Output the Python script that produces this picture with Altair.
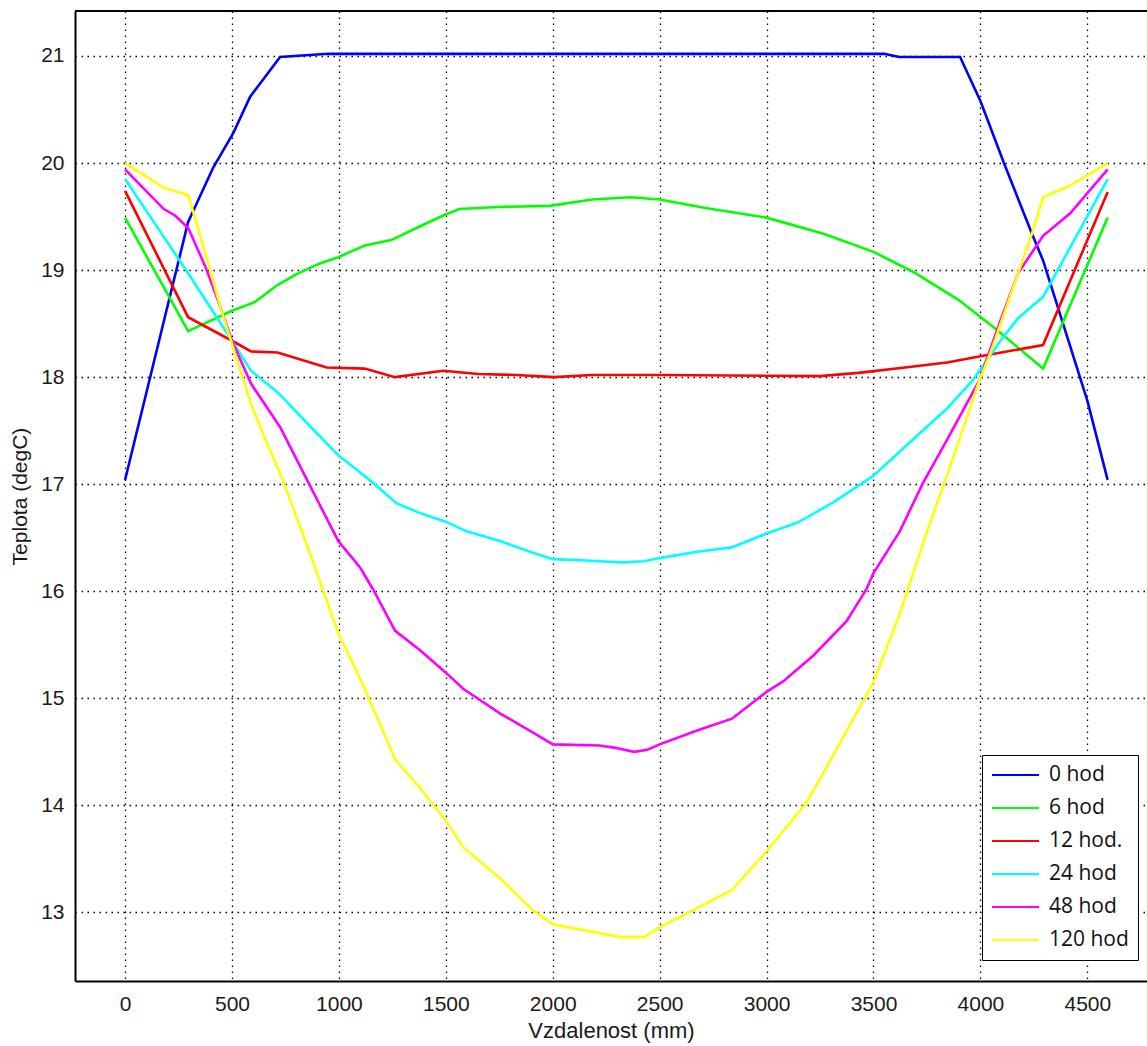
import altair as alt
import pandas as pd

# ---------------- data ----------------
labels = ["0 hod", "6 hod", "12 hod.", "24 hod", "48 hod", "120 hod"]
colors = ["#0000ff", "#00ff00", "#ff0000", "#00ffff", "#ff00ff", "#ffff00"]

x_0 = [0, 295, 413, 506, 585, 725, 950, 3550, 3620, 3905, 4000, 4110, 4241, 4293, 4500, 4595]
t_0 = [17.04, 19.45, 19.96, 20.28, 20.62, 20.99, 21.02, 21.02, 20.99, 20.99, 20.58, 20.00, 19.34, 19.09, 17.78, 17.04]

x_6 = [0, 295, 500, 606, 713, 800, 908, 996, 1121, 1245, 1370, 1488, 1564, 1741, 1986, 2184, 2362,
       2500, 2714, 3000, 3266, 3500, 3688, 3899, 4078, 4293, 4595]
t_6 = [19.49, 18.43, 18.62, 18.70, 18.86, 18.96, 19.06, 19.12, 19.23, 19.28, 19.40, 19.51, 19.57, 19.59,
       19.60, 19.66, 19.68, 19.66, 19.58, 19.49, 19.34, 19.17, 18.98, 18.72, 18.44, 18.08, 19.49]

x_12 = [0, 295, 500, 589, 713, 943, 1121, 1262, 1488, 1652, 1830, 2007, 2184, 2500, 3250, 3429, 3688,
        3851, 4013, 4293, 4595]
t_12 = [19.74, 18.56, 18.34, 18.24, 18.23, 18.09, 18.08, 18.00, 18.06, 18.03, 18.02, 18.00, 18.02, 18.02,
        18.01, 18.04, 18.10, 18.14, 18.20, 18.30, 19.73]

x_24 = [0, 295, 500, 589, 713, 837, 997, 1100, 1162, 1271, 1380, 1500, 1597, 1753, 1893, 2000, 2132,
        2318, 2427, 2500, 2675, 2838, 3000, 3143, 3312, 3500, 3686, 3840, 3964, 4094, 4176, 4293, 4595]
t_24 = [19.85, 18.97, 18.34, 18.06, 17.86, 17.60, 17.27, 17.11, 17.01, 16.82, 16.73, 16.65, 16.56, 16.47,
        16.37, 16.30, 16.29, 16.27, 16.28, 16.31, 16.37, 16.41, 16.54, 16.64, 16.83, 17.08, 17.42, 17.70,
        17.97, 18.34, 18.55, 18.75, 19.85]

x_48 = [0, 181, 234, 296, 376, 447, 500, 589, 726, 851, 997, 1100, 1162, 1263, 1380, 1500, 1581, 1753,
        1908, 2000, 2219, 2287, 2380, 2443, 2500, 2675, 2838, 3000, 3079, 3219, 3374, 3467, 3500, 3623,
        3731, 3840, 3995, 4094, 4176, 4293, 4420, 4595]
t_48 = [19.94, 19.57, 19.51, 19.39, 19.03, 18.65, 18.34, 17.94, 17.53, 17.04, 16.47, 16.22, 16.01, 15.63,
        15.45, 15.24, 15.09, 14.86, 14.68, 14.57, 14.56, 14.54, 14.50, 14.52, 14.57, 14.70, 14.81, 15.06,
        15.16, 15.40, 15.72, 16.02, 16.17, 16.56, 17.01, 17.40, 17.97, 18.53, 18.97, 19.32, 19.53, 19.94]

x_120 = [0, 181, 296, 376, 447, 500, 589, 660, 730, 851, 997, 1100, 1162, 1263, 1380, 1500, 1581, 1753,
         1908, 2000, 2132, 2318, 2427, 2500, 2675, 2838, 3000, 3188, 3312, 3500, 3623, 3747, 3856, 3995,
         4046, 4143, 4241, 4293, 4420, 4595]
t_120 = [20.00, 19.77, 19.70, 19.15, 18.65, 18.31, 17.75, 17.40, 17.08, 16.43, 15.61, 15.18, 14.90, 14.43,
         14.16, 13.86, 13.61, 13.32, 13.02, 12.89, 12.84, 12.77, 12.77, 12.86, 13.04, 13.21, 13.57, 14.03,
         14.47, 15.15, 15.79, 16.54, 17.15, 17.97, 18.22, 18.78, 19.34, 19.68, 19.79, 20.00]

x_ticks = [0, 500, 1000, 1500, 2000, 2500, 3000, 3500, 4000, 4500]
y_ticks = [13, 14, 15, 16, 17, 18, 19, 20, 21]

# ---------------- table ----------------
series_x = [x_0, x_6, x_12, x_24, x_48, x_120]
series_t = [t_0, t_6, t_12, t_24, t_48, t_120]
rows = []
for k, (lab, xs, ts) in enumerate(zip(labels, series_x, series_t)):
    for i, (xv, tv) in enumerate(zip(xs, ts)):
        rows.append({"serie": lab, "k": k, "i": i, "x": xv, "t": tv})
df = pd.DataFrame(rows)

W, H = 1072, 970

lines = alt.Chart(df).mark_line(strokeWidth=2.6, clip=True).encode(
    x=alt.X("x:Q",
            scale=alt.Scale(domain=[-234, 4779], nice=False, zero=False),
            axis=alt.Axis(values=x_ticks, title="Vzdalenost (mm)", format="d", titleFontSize=22)),
    y=alt.Y("t:Q",
            scale=alt.Scale(domain=[12.36, 21.42], nice=False, zero=False),
            axis=alt.Axis(values=y_ticks, title="Teplota (degC)", format="d")),
    color=alt.Color("serie:N",
                    scale=alt.Scale(domain=labels, range=colors),
                    legend=alt.Legend(title=None, orient="none", legendX=907, legendY=744,
                                      symbolType="stroke", symbolSize=2209, symbolStrokeWidth=2,
                                      clipHeight=22, rowPadding=11, labelOffset=9, symbolOffset=0,
                                      padding=9, strokeColor="black", fillColor="white",
                                      labelFont="Open Sans", labelFontSize=21, labelColor="#111111")),
    detail="k:N",
    order="i:Q",
)

frame = alt.Chart(pd.DataFrame({"a": [0]})).mark_rule(color="black", strokeWidth=2).encode(
    x=alt.value(0), x2=alt.value(W), y=alt.value(0)
)

chart = alt.layer(lines, frame).properties(
    width=W, height=H,
    autosize=alt.AutoSizeParams(type="none"),
    padding={"left": 75, "top": 11, "right": 0, "bottom": 65},
    background="white",
).configure_view(stroke=None).configure_axis(
    grid=True, gridColor="black", gridDash=[1.5, 4.5], gridWidth=1.3, gridOpacity=1,
    domainColor="black", domainWidth=2, ticks=False,
    labelFont="Liberation Sans", labelFontSize=21, labelColor="#1a1a1a",
    titleFont="Liberation Sans", titleFontSize=21, titleFontWeight="normal", titleColor="#1a1a1a",
).configure_axisX(labelPadding=12, titlePadding=6).configure_axisY(labelPadding=11, titlePadding=10)

chart.save("out.html", embed_options={"renderer": "svg", "actions": False})
